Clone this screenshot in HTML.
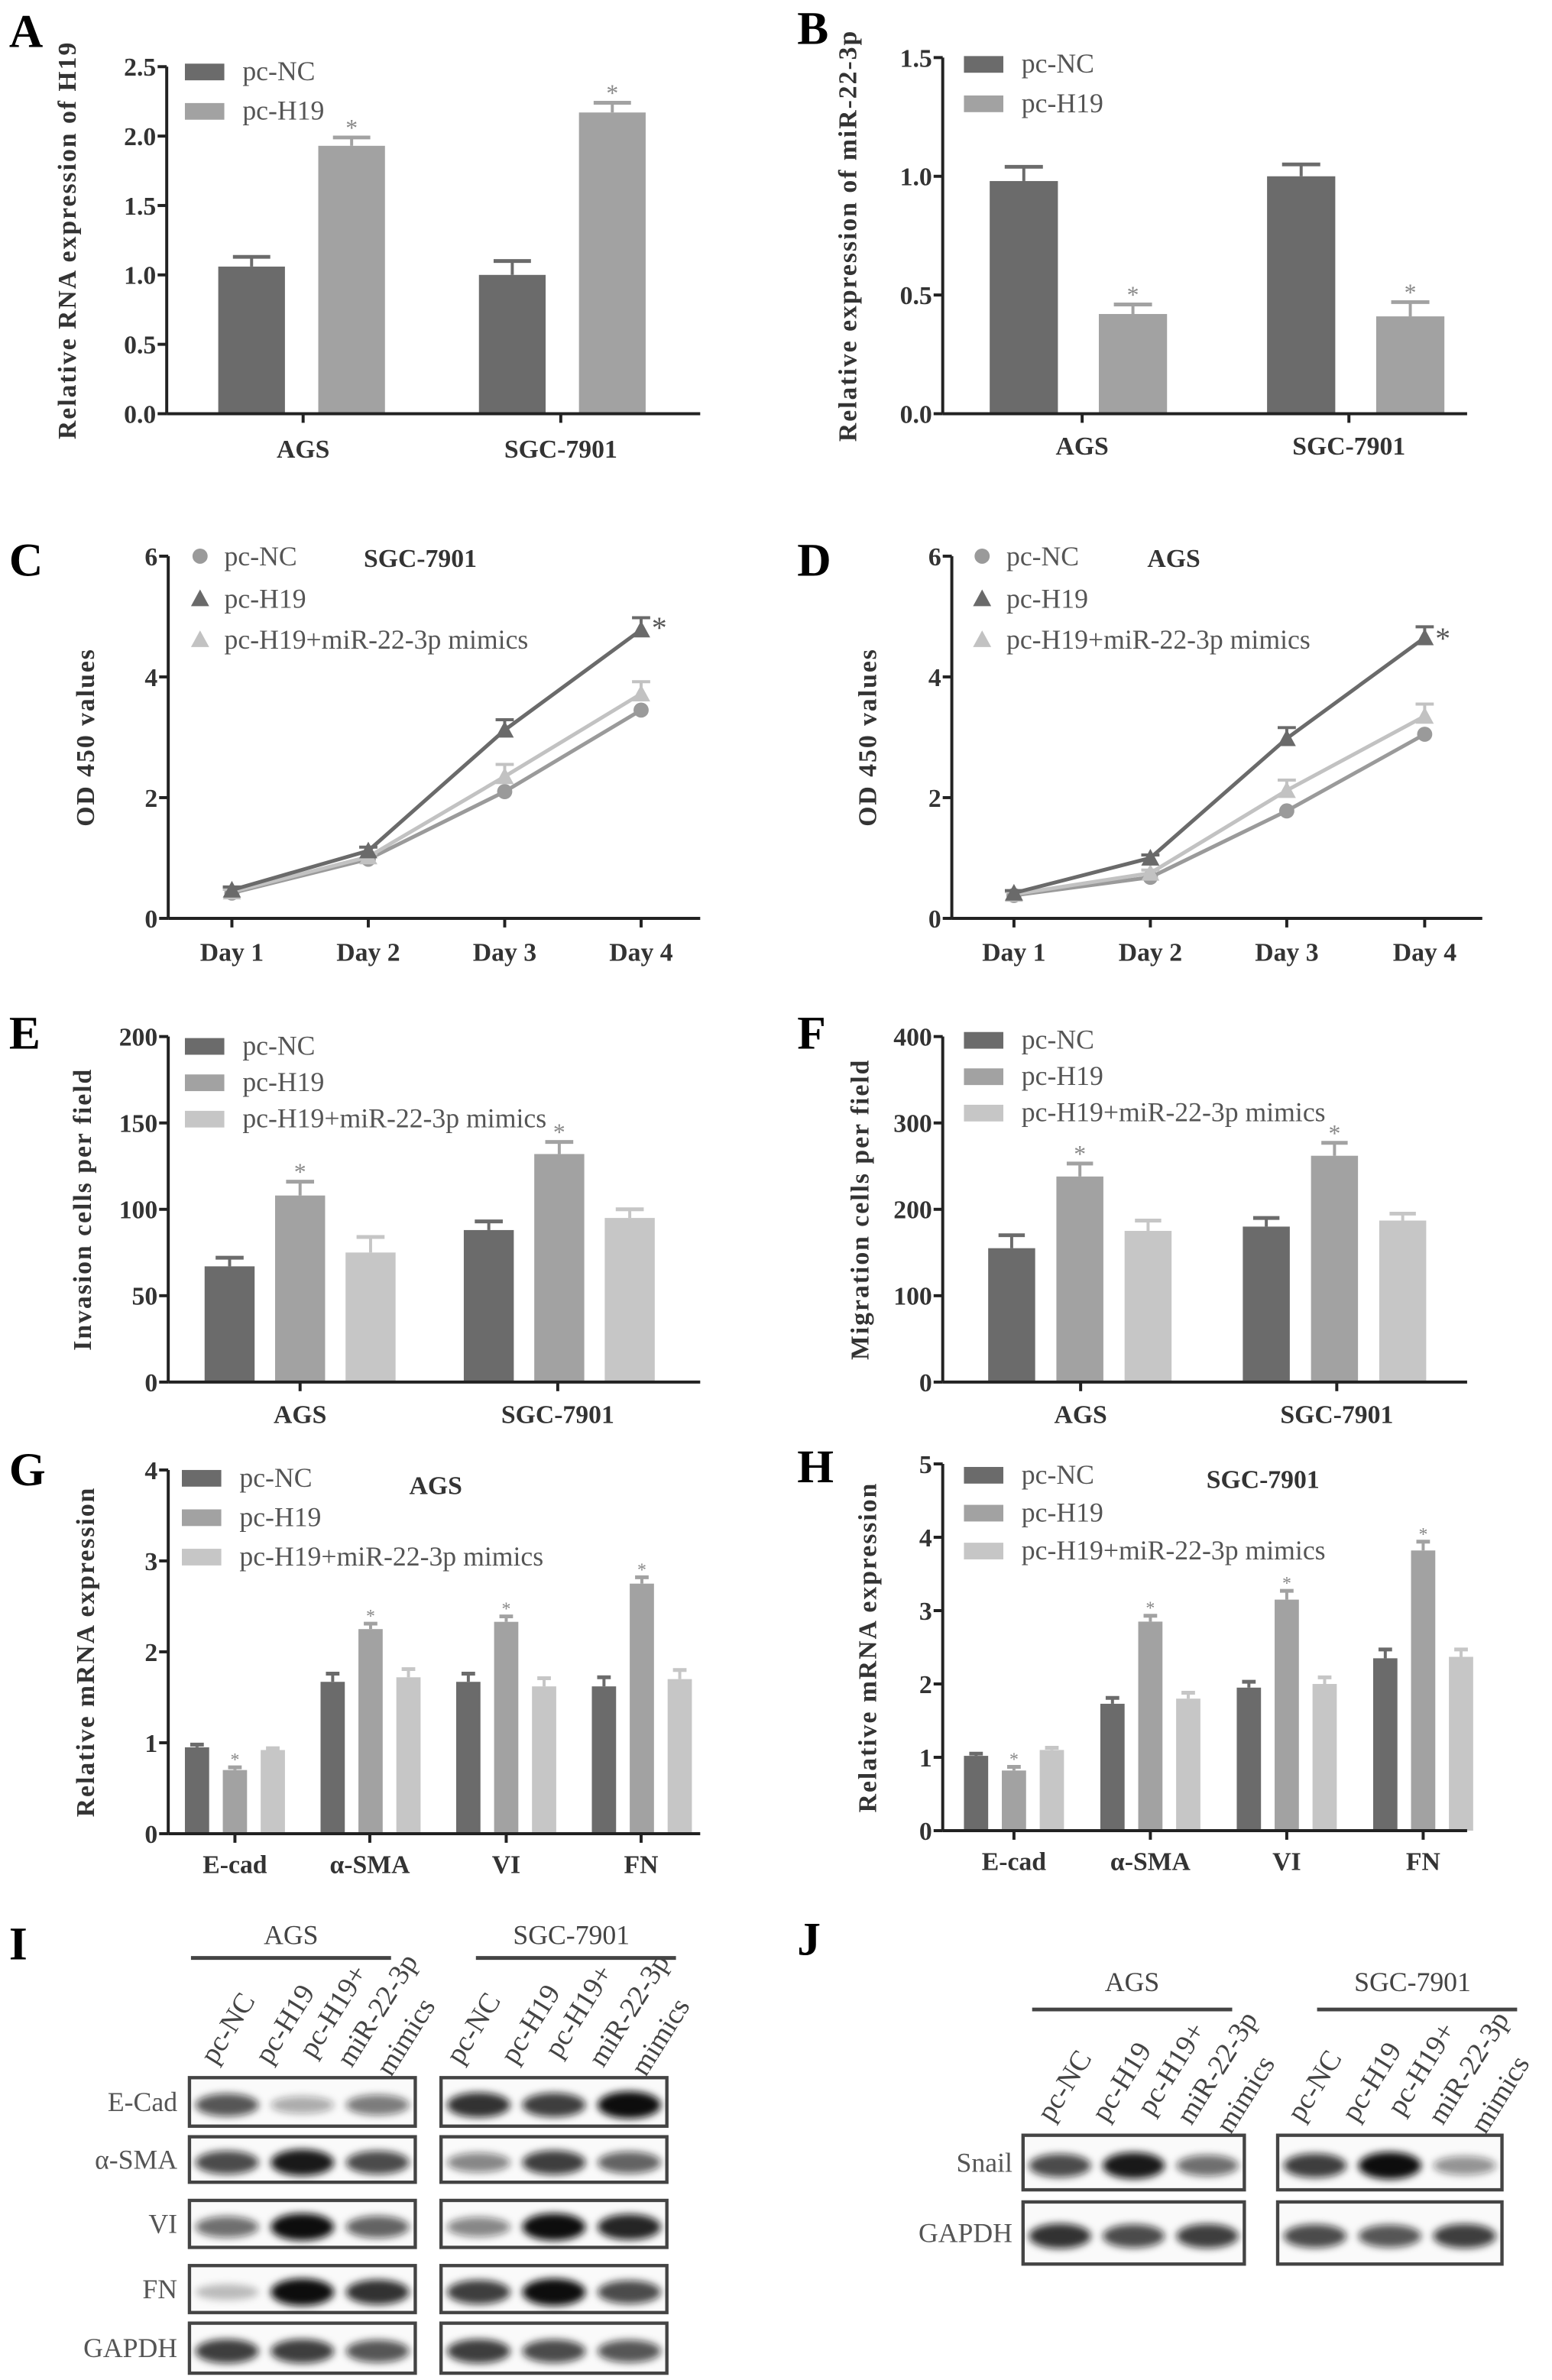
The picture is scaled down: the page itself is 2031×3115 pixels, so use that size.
<!DOCTYPE html>
<html><head><meta charset="utf-8"><style>
html,body{margin:0;padding:0;background:#fff;}
svg{display:block;font-family:"Liberation Serif",serif;}
svg text{font-family:"Liberation Serif",serif;}
</style></head><body>
<svg id="fig" xmlns="http://www.w3.org/2000/svg" width="2031" height="3115" viewBox="0 0 1024 1570.5" preserveAspectRatio="none" font-family="Liberation Serif, serif">
<defs>
<filter id="blur" x="-50%" y="-100%" width="200%" height="300%"><feGaussianBlur stdDeviation="2.4"/></filter>
</defs>
</svg>
<script>
// ---------- DATA ----------
const A_categories=['AGS','SGC-7901'];
const A_nc=[1.06,1.0], A_h19=[1.93,2.17];
const A_nc_err=[0.07,0.1], A_h19_err=[0.06,0.07];
const A_ticks=['0.0','0.5','1.0','1.5','2.0','2.5'];

const B_categories=['AGS','SGC-7901'];
const B_nc=[0.98,1.0], B_h19=[0.42,0.41];
const B_nc_err=[0.06,0.05], B_h19_err=[0.04,0.06];
const B_ticks=['0.0','0.5','1.0','1.5'];

const C_days=['Day 1','Day 2','Day 3','Day 4'];
const C_nc=[0.42,0.98,2.1,3.45], C_h19=[0.47,1.12,3.12,4.78], C_mim=[0.44,1.02,2.35,3.72];
const C_h19_err=[0.05,0.06,0.17,0.2], C_mim_err=[0.04,0.05,0.2,0.2];
const D_nc=[0.38,0.68,1.78,3.05], D_h19=[0.42,1.0,2.98,4.65], D_mim=[0.4,0.75,2.12,3.35];
const D_h19_err=[0.04,0.05,0.18,0.18], D_mim_err=[0.04,0.05,0.17,0.2];
const CD_ticks=['0','2','4','6'];

const E_categories=['AGS','SGC-7901'];
const E_nc=[67,88], E_h19=[108,132], E_mim=[75,95];
const E_nc_err=[5,5], E_h19_err=[8,7], E_mim_err=[9,5];
const E_ticks=['0','50','100','150','200'];

const F_nc=[155,180], F_h19=[238,262], F_mim=[175,187];
const F_nc_err=[15,10], F_h19_err=[15,15], F_mim_err=[12,8];
const F_ticks=['0','100','200','300','400'];

const G_categories=['E-cad','α-SMA','VI','FN'];
const G_nc=[0.95,1.67,1.67,1.62], G_h19=[0.7,2.25,2.33,2.75], G_mim=[0.92,1.72,1.62,1.7];
const G_nc_err=[0.03,0.09,0.09,0.1], G_h19_err=[0.03,0.06,0.06,0.07], G_mim_err=[0.02,0.09,0.09,0.1];
const G_ticks=['0','1','2','3','4'];

const H_nc=[1.02,1.73,1.95,2.35], H_h19=[0.82,2.85,3.15,3.82], H_mim=[1.1,1.8,2.0,2.37];
const H_nc_err=[0.03,0.08,0.08,0.12], H_h19_err=[0.05,0.08,0.12,0.12], H_mim_err=[0.03,0.08,0.09,0.1];
const H_ticks=['0','1','2','3','4','5'];

// ---------- HELPERS ----------
const NS='http://www.w3.org/2000/svg';
const svg=document.getElementById('fig');
const FF='Liberation Serif, serif';
function mk(tag,attrs,parent){const e=document.createElementNS(NS,tag);for(const k in attrs)e.setAttribute(k,attrs[k]);(parent||svg).appendChild(e);return e;}
function txt(s,x,y,attrs,parent){const t=mk('text',Object.assign({x:x,y:y,'font-family':FF},attrs||{}),parent);t.textContent=s;return t;}
const DARK='#6b6b6b', MID='#a2a2a2', LIGHT='#c6c6c6', AX='#222';

function panelLabel(s,x,y){const t=txt(s,x,y,{'font-size':31,'font-weight':'bold'});

}

function yAxis(g,ax,yBase,yTop,labels,title,titleX,fs){
  const l=mk('line',{x1:ax,y1:yTop,x2:ax,y2:yBase,stroke:AX,'stroke-width':2},g);
  
  
  const n=labels.length-1;
  labels.forEach((lab,i)=>{const y=yBase-(yBase-yTop)*i/n;
    mk('line',{x1:ax-6,y1:y,x2:ax,y2:y,stroke:AX,'stroke-width':2},g);
    const t=txt(lab,ax-7,y+6,{'font-size':fs||17,'font-weight':'bold','text-anchor':'end',fill:'#333'},g);
    
    });
  const cy=(yBase+yTop)/2;
  const t=txt(title,titleX,cy,{'font-size':17,'font-weight':'bold','text-anchor':'middle',fill:'#333','letter-spacing':'1',transform:'rotate(-90 '+titleX+' '+cy+')'},g);
  
  
}
function xAxis(g,ax,xEnd,yBase,cats,centers,labY){
  const l=mk('line',{x1:ax,y1:yBase,x2:xEnd,y2:yBase,stroke:AX,'stroke-width':2},g);
  
  
  cats.forEach((c,i)=>{mk('line',{x1:centers[i],y1:yBase,x2:centers[i],y2:yBase+6,stroke:AX,'stroke-width':2},g);
    const t=txt(c,centers[i],labY,{'font-size':17,'font-weight':'bold','text-anchor':'middle',fill:'#333'},g);
    
    });
}
function legendBar(g,x,y,color,label,fs){
  const r=mk('rect',{x:x,y:y-5,width:26,height:11,fill:color},g);
  
  
  const t=txt(label,x+38,y+6,{'font-size':fs||18,fill:'#555'},g);
  
  
}
function drawBars(g,cfg,series,errs,colors,starIdx){
  const sc=v=>cfg.yBase-(cfg.yBase-cfg.yTop)*v/cfg.vmax;
  series.forEach((vals,s)=>{vals.forEach((v,i)=>{
    const x=cfg.gx+i*cfg.gstep+s*cfg.bstep, y=sc(v);
    const eT=sc(v+errs[s][i]);
    const cap=cfg.w*0.28;
    mk('line',{x1:x+cfg.w/2,y1:y,x2:x+cfg.w/2,y2:eT,stroke:colors[s],'stroke-width':2},g);
    mk('line',{x1:x+cfg.w/2-cap,y1:eT,x2:x+cfg.w/2+cap,y2:eT,stroke:colors[s],'stroke-width':2.5},g);
    const r=mk('rect',{x:x,y:y,width:cfg.w,height:cfg.yBase-y,fill:colors[s]},g);
    
    
    if(s===starIdx){const st=txt('*',x+cfg.w/2,eT-1,{'font-size':cfg.starFs||16,'text-anchor':'middle',fill:'#888'},g);
      
      }
  });});
}
function group(name){const g=mk('g',{});return g;}

// ---------- PANEL A ----------
panelLabel('A',6,31);
(function(){const g=group('chart-a');
 const cfg={yBase:273,yTop:44,vmax:2.5,gx:144,gstep:172,bstep:66,w:44};
 drawBars(g,cfg,[A_nc,A_h19],[A_nc_err,A_h19_err],[DARK,MID],1);
 yAxis(g,110,273,44,A_ticks,'Relative RNA expression of  H19',50);
 xAxis(g,110,462,273,A_categories,[200,370],302);
 legendBar(g,122,47,DARK,'pc-NC');legendBar(g,122,73,MID,'pc-H19');})();

// ---------- PANEL B ----------
panelLabel('B',526,29);
(function(){const g=group('chart-b');
 const cfg={yBase:273,yTop:38,vmax:1.5,gx:653,gstep:183,bstep:72,w:45};
 drawBars(g,cfg,[B_nc,B_h19],[B_nc_err,B_h19_err],[DARK,MID],1);
 yAxis(g,622,273,38,B_ticks,'Relative expression of  miR-22-3p',565);
 xAxis(g,622,968,273,B_categories,[714,890],300);
 legendBar(g,636,42,DARK,'pc-NC');legendBar(g,636,68,MID,'pc-H19');})();

// ---------- LINE CHARTS ----------
function lineChart(g,ax,xs,yBase,yTop,vmax,series,errs,colors,markers,xEnd){
  const sc=v=>yBase-(yBase-yTop)*v/vmax;
  series.forEach((vals,s)=>{
    const pts=vals.map((v,i)=>xs[i]+','+sc(v)).join(' ');
    const pl=mk('polyline',{points:pts,fill:'none',stroke:colors[s],'stroke-width':2.5},g);
    
    
    vals.forEach((v,i)=>{const x=xs[i],y=sc(v);
      if(errs[s]){const e=sc(v+errs[s][i]);
        mk('line',{x1:x,y1:y,x2:x,y2:e,stroke:colors[s],'stroke-width':2},g);
        mk('line',{x1:x-6,y1:e,x2:x+6,y2:e,stroke:colors[s],'stroke-width':2},g);}
      let m;
      if(markers[s]==='c')m=mk('circle',{cx:x,cy:y,r:5,fill:colors[s]},g);
      else m=mk('polygon',{points:(x-6)+','+(y+5)+' '+(x+6)+','+(y+5)+' '+x+','+(y-6),fill:colors[s]},g);
      
      });
  });
}
function lineLegend(g,x,y,color,shape,label){
  let m;
  if(shape==='c')m=mk('circle',{cx:x,cy:y,r:5,fill:color},g);
  else m=mk('polygon',{points:(x-6)+','+(y+5)+' '+(x+6)+','+(y+5)+' '+x+','+(y-6),fill:color},g);
  
  
  const t=txt(label,x+16,y+6,{'font-size':18,fill:'#555'},g);
  
  
}
panelLabel('C',6,380);
(function(){const g=group('chart-c');
 lineChart(g,111,[153,243,333,423],606,367,6,[C_nc,C_mim,C_h19],[null,C_mim_err,C_h19_err],['#9a9a9a','#c2c2c2','#6a6a6a'],['c','t','t']);
 yAxis(g,111,606,367,CD_ticks,'OD 450 values',62);
 xAxis(g,111,462,606,C_days,[153,243,333,423],634);
 lineLegend(g,132,367,'#9a9a9a','c','pc-NC');lineLegend(g,132,395,'#6a6a6a','t','pc-H19');lineLegend(g,132,422,'#c2c2c2','t','pc-H19+miR-22-3p mimics');
 const t=txt('SGC-7901',240,374,{'font-size':17,'font-weight':'bold',fill:'#333'},g);
 const s=txt('*',430,421,{'font-size':20,fill:'#555'},g);})();

panelLabel('D',526,380);
(function(){const g=group('chart-d');
 lineChart(g,628,[669,759,849,940],606,367,6,[D_nc,D_mim,D_h19],[null,D_mim_err,D_h19_err],['#9a9a9a','#c2c2c2','#6a6a6a'],['c','t','t']);
 yAxis(g,628,606,367,CD_ticks,'OD 450 values',578);
 xAxis(g,628,978,606,C_days,[669,759,849,940],634);
 lineLegend(g,648,367,'#9a9a9a','c','pc-NC');lineLegend(g,648,395,'#6a6a6a','t','pc-H19');lineLegend(g,648,422,'#c2c2c2','t','pc-H19+miR-22-3p mimics');
 const t=txt('AGS',757,374,{'font-size':17,'font-weight':'bold',fill:'#333'},g);
 const s=txt('*',947,428,{'font-size':20,fill:'#555'},g);})();

// ---------- PANEL E ----------
panelLabel('E',6,692);
(function(){const g=group('chart-e');
 const cfg={yBase:912,yTop:684,vmax:200,gx:135,gstep:171,bstep:46.5,w:33};
 drawBars(g,cfg,[E_nc,E_h19,E_mim],[E_nc_err,E_h19_err,E_mim_err],[DARK,MID,LIGHT],1);
 yAxis(g,111,912,684,E_ticks,'Invasion cells per field',60);
 xAxis(g,111,462,912,E_categories,[198,368],939);
 legendBar(g,122,690,DARK,'pc-NC');legendBar(g,122,714,MID,'pc-H19');legendBar(g,122,738,LIGHT,'pc-H19+miR-22-3p mimics');})();

// ---------- PANEL F ----------
panelLabel('F',526,692);
(function(){const g=group('chart-f');
 const cfg={yBase:912,yTop:684,vmax:400,gx:652,gstep:168,bstep:45,w:31};
 drawBars(g,cfg,[F_nc,F_h19,F_mim],[F_nc_err,F_h19_err,F_mim_err],[DARK,MID,LIGHT],1);
 yAxis(g,622,912,684,F_ticks,'Migration cells per field',573);
 xAxis(g,622,968,912,E_categories,[713,882],939);
 legendBar(g,636,686,DARK,'pc-NC');legendBar(g,636,710,MID,'pc-H19');legendBar(g,636,734,LIGHT,'pc-H19+miR-22-3p mimics');})();

// ---------- PANEL G ----------
panelLabel('G',6,980);
(function(){const g=group('chart-g');
 const cfg={yBase:1210,yTop:970,vmax:4,gx:122,gstep:89.5,bstep:25,w:16,starFs:12};
 drawBars(g,cfg,[G_nc,G_h19,G_mim],[G_nc_err,G_h19_err,G_mim_err],[DARK,MID,LIGHT],1);
 yAxis(g,111,1210,970,G_ticks,'Relative mRNA expression',62);
 xAxis(g,111,462,1210,G_categories,[155,244,334,423],1236);
 legendBar(g,120,975,DARK,'pc-NC');legendBar(g,120,1001,MID,'pc-H19');legendBar(g,120,1027,LIGHT,'pc-H19+miR-22-3p mimics');
 const t=txt('AGS',270,986,{'font-size':17,'font-weight':'bold',fill:'#333'},g);})();

// ---------- PANEL H ----------
panelLabel('H',526,978);
(function(){const g=group('chart-h');
 const cfg={yBase:1208,yTop:966,vmax:5,gx:636,gstep:90,bstep:25,w:16,starFs:12};
 drawBars(g,cfg,[H_nc,H_h19,H_mim],[H_nc_err,H_h19_err,H_mim_err],[DARK,MID,LIGHT],1);
 yAxis(g,622,1208,966,H_ticks,'Relative mRNA expression',578);
 xAxis(g,622,968,1208,G_categories,[669,759,849,939],1234);
 legendBar(g,636,973,DARK,'pc-NC');legendBar(g,636,998,MID,'pc-H19');legendBar(g,636,1023,LIGHT,'pc-H19+miR-22-3p mimics');
 const t=txt('SGC-7901',796,982,{'font-size':17,'font-weight':'bold',fill:'#333'},g);})();

// ---------- BLOTS ----------
const I_rows=['E-Cad','α-SMA','VI','FN','GAPDH'];
const I_rowY=[[1371,1403],[1410,1440],[1452,1483],[1495,1526],[1533,1566]];
const I_bands=[[0.7,0.35,0.55,0.85,0.8,1],[0.75,0.95,0.75,0.5,0.8,0.65],[0.6,1,0.65,0.5,1,0.9],[0.25,1,0.85,0.8,1,0.75],[0.8,0.8,0.7,0.8,0.75,0.7]];
const J_rows=['Snail','GAPDH'];
const J_rowY=[[1409,1445],[1453,1494]];
const J_bands=[[0.75,0.95,0.6,0.8,1,0.45],[0.85,0.75,0.8,0.75,0.7,0.8]];
const lanes=['pc-NC','pc-H19','pc-H19+','miR-22-3p','mimics'];

function blotBox(g,x1,x2,y1,y2,bands){
  const r=mk('rect',{x:x1,y:y1,width:x2-x1,height:y2-y1,fill:'#fafafa',stroke:'#444','stroke-width':2.2},g);
  
  
  const w=(x2-x1)/3, cy=(y1+y2)/2+2;
  bands.forEach((b,i)=>{
    const e=mk('ellipse',{cx:x1+w*(i+0.5),cy:cy,rx:w*0.42,ry:4+5*b,fill:'#111','fill-opacity':b,filter:'url(#blur)'},g);
    
    });
}
function laneLabels(g,xs,yb){
  const pos=[[xs[0],yb],[xs[1],yb],[xs[2],yb-4],[xs[3],yb+2],[xs[4],yb+8]];
  lanes.forEach((l,i)=>{const t=txt(l,pos[i][0],pos[i][1],{'font-size':19,fill:'#444',transform:'rotate(-58 '+pos[i][0]+' '+pos[i][1]+')'},g);
    
    });
}
function groupHeader(g,label,cx,ty,x1,x2,ly){
  const t=txt(label,cx,ty,{'font-size':18,'text-anchor':'middle',fill:'#444'},g);
  
  
  const l=mk('line',{x1:x1,y1:ly,x2:x2,y2:ly,stroke:'#444','stroke-width':2.5},g);
  
  
}
panelLabel('I',6,1293);
(function(){const g=group('blot-i');
 groupHeader(g,'AGS',192,1283,126,258,1292);
 groupHeader(g,'SGC-7901',377,1283,314,446,1292);
 laneLabels(g,[142,178,207,232,258],1363);
 laneLabels(g,[304,340,369,398,426],1363);
 I_rows.forEach((r,k)=>{const y=I_rowY[k];
   blotBox(g,125,274,y[0],y[1],I_bands[k].slice(0,3));
   blotBox(g,291,440,y[0],y[1],I_bands[k].slice(3));
   const t=txt(r,117,(y[0]+y[1])/2+6,{'font-size':18,'text-anchor':'end',fill:'#555'},g);
   
   });})();

panelLabel('J',526,1290);
(function(){const g=group('blot-j');
 groupHeader(g,'AGS',747,1314,681,813,1326);
 groupHeader(g,'SGC-7901',932,1314,869,1001,1326);
 laneLabels(g,[694,730,760,786,812],1401);
 laneLabels(g,[859,895,925,952,980],1401);
 J_rows.forEach((r,k)=>{const y=J_rowY[k];
   blotBox(g,675,821,y[0],y[1],J_bands[k].slice(0,3));
   blotBox(g,843,991,y[0],y[1],J_bands[k].slice(3));
   const t=txt(r,668,(y[0]+y[1])/2+6,{'font-size':18,'text-anchor':'end',fill:'#555'},g);
   
   });})();
</script>
</body></html>
